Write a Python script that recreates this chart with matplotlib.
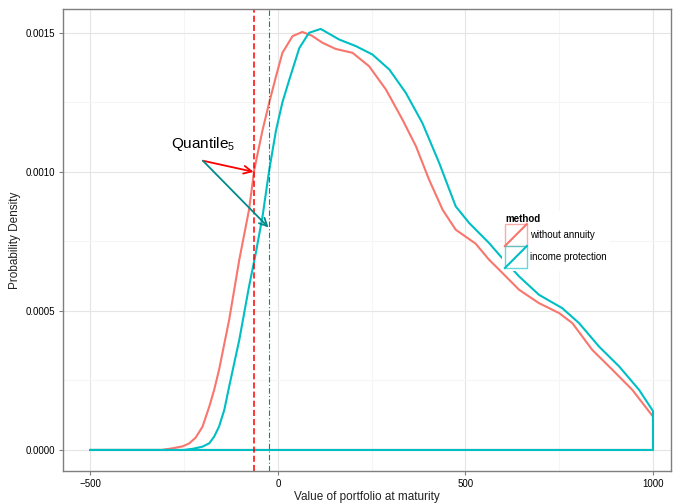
import matplotlib
matplotlib.use("Agg")
import matplotlib.pyplot as plt
from matplotlib.legend_handler import HandlerBase
from matplotlib.patches import Rectangle
from matplotlib.lines import Line2D
from matplotlib.ticker import FixedLocator

plt.rcParams['font.family'] = ['Liberation Sans', 'DejaVu Sans']
plt.rcParams['mathtext.fontset'] = 'custom'
plt.rcParams['mathtext.rm'] = 'Liberation Sans'

# density curves (value of portfolio, density x 1e-3)
red_x = [-500, -310, -281, -254, -236, -219, -201, -183, -170, -157, -130, -103, -77, -63,
         -41, -23, -5, 12, 39, 65, 90, 119, 154, 199, 243, 288, 332, 368, 403, 439, 474,
         527, 563, 590, 643, 696, 750, 785, 838, 892, 945, 1000]
red_y = [0, 0, 0.006, 0.013, 0.024, 0.045, 0.084, 0.156, 0.216, 0.288, 0.468, 0.684, 0.864,
         1.008, 1.15, 1.25, 1.344, 1.428, 1.488, 1.503, 1.49, 1.464, 1.442, 1.428, 1.38,
         1.296, 1.188, 1.092, 0.972, 0.864, 0.792, 0.742, 0.684, 0.648, 0.576, 0.528,
         0.492, 0.456, 0.36, 0.288, 0.216, 0.12]

cyan_x = [-500, -250, -228, -201, -183, -170, -157, -143, -130, -103, -77, -59, -41, -23,
          -5, 12, 30, 57, 83, 114, 163, 208, 252, 297, 341, 385, 430, 474, 510, 563, 590,
          643, 696, 758, 803, 856, 910, 963, 1000]
cyan_y = [0, 0, 0.004, 0.012, 0.024, 0.048, 0.084, 0.144, 0.228, 0.396, 0.588, 0.708, 0.84,
          1.008, 1.15, 1.25, 1.33, 1.445, 1.5, 1.514, 1.476, 1.452, 1.422, 1.368, 1.284,
          1.176, 1.032, 0.876, 0.816, 0.744, 0.702, 0.624, 0.558, 0.51, 0.456, 0.372, 0.3,
          0.216, 0.14]

labels = ["without annuity", "income protection"]
q_red = -65
q_cyan = -25
q_red_y = 0.001
q_cyan_y = 0.0008
label_pos = (-200, 0.0011)
arrow_start = (-200, 0.00104)

RED = "#F8766D"
CYAN = "#00BFC4"


class BoxKey(HandlerBase):
    def create_artists(self, legend, orig, xd, yd, w, h, fontsize, trans):
        c = orig.get_color()
        box = Rectangle((-xd, -yd), w, h, facecolor="white", edgecolor=c, lw=1.0,
                        alpha=0.6, transform=trans)
        ln = Line2D([-xd, -xd + w], [-yd, -yd + h], color=c, lw=1.5, transform=trans)
        return [box, ln]


fig = plt.figure(figsize=(6.73, 5.04), dpi=100)
ax = fig.add_axes([63 / 673, 1 - 471 / 504, 608 / 673, 462 / 504])

lines = []
for xs, ys, col in [(red_x, red_y, RED), (cyan_x, cyan_y, CYAN)]:
    px = list(xs) + [xs[-1], xs[0]]
    py = [v * 1e-3 for v in ys] + [0, 0]
    l, = ax.plot(px, py, color=col, lw=1.5, solid_joinstyle="round")
    lines.append(l)

ax.axvline(q_red, color="red", lw=1.1, ls=(0, (4, 2)))
ax.axvline(q_cyan, color="#008B8B", lw=0.8, ls=(0, (5, 2, 1, 2)))

ax.text(label_pos[0], label_pos[1], "Quantile$_5$", fontsize=11, ha="center", va="center")
ax.annotate("", xy=(q_red, q_red_y), xytext=arrow_start,
            arrowprops=dict(arrowstyle="->", color="red", lw=1.3, shrinkA=0, shrinkB=0,
                            mutation_scale=14))
ax.annotate("", xy=(q_cyan, q_cyan_y), xytext=arrow_start,
            arrowprops=dict(arrowstyle="->", color="#008B8B", lw=1.3, shrinkA=0, shrinkB=0,
                            mutation_scale=14))

ax.set_xlim(-573, 1048)
ax.set_ylim(-0.0000756, 0.0015856)
ax.set_xticks([-500, 0, 500, 1000])
ax.set_yticks([0, 0.0005, 0.001, 0.0015])
ax.set_yticklabels(["0.0000", "0.0005", "0.0010", "0.0015"])
ax.xaxis.set_minor_locator(FixedLocator([-250, 250, 750]))
ax.yaxis.set_minor_locator(FixedLocator([0.00025, 0.00075, 0.00125]))
ax.grid(which="major", color="#E5E5E5", lw=0.8)
ax.grid(which="minor", color="#F5F5F5", lw=0.8)
ax.set_axisbelow(True)
ax.tick_params(which="major", length=3, width=0.8, color="#7F7F7F", labelsize=7,
               labelcolor="black", pad=3)
ax.tick_params(which="minor", length=0)
for s in ax.spines.values():
    s.set_color("#7F7F7F")
    s.set_linewidth(1.0)

ax.set_xlabel("Value of portfolio at maturity", fontsize=8.5, color="#222222", labelpad=1)
ax.set_ylabel("Probability Density", fontsize=8.5, color="#222222", labelpad=3)

leg = ax.legend(lines, labels, handler_map={lines[0]: BoxKey(), lines[1]: BoxKey()},
                loc="upper left", bbox_to_anchor=(0.714, 0.573), fontsize=7,
                title="method", title_fontproperties={"weight": "bold", "size": 7},
                alignment="left", handlelength=2.26, handleheight=3.1, labelspacing=0,
                handletextpad=0.35, borderpad=0.3, frameon=True, fancybox=False,
                framealpha=1, edgecolor="none", facecolor="white")

fig.savefig("out.png", dpi=100)
